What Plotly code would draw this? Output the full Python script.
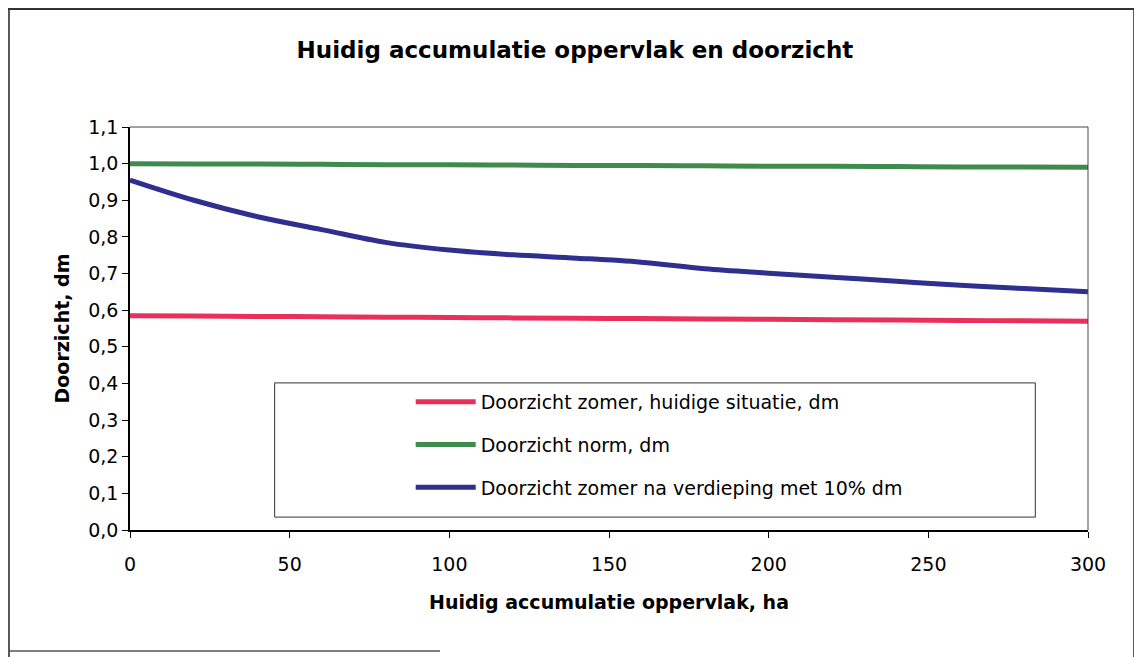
import plotly.graph_objects as go

# oppervlak (ha) en doorzicht (dm)
opp = [0, 20, 40, 60, 80, 100, 120, 140, 160, 180, 200, 220, 240, 260, 280, 300]
zomer_huidig = [0.585, 0.584, 0.583, 0.582, 0.581, 0.580, 0.579, 0.578, 0.577, 0.576, 0.575, 0.574, 0.573, 0.572, 0.571, 0.570]
norm = [1.0, 0.999, 0.999, 0.998, 0.997, 0.997, 0.996, 0.995, 0.995, 0.994, 0.993, 0.993, 0.992, 0.991, 0.991, 0.990]
zomer_verdieping = [0.955, 0.90, 0.855, 0.82, 0.785, 0.764, 0.751, 0.742, 0.731, 0.713, 0.701, 0.69, 0.679, 0.668, 0.659, 0.650]

namen = ['Doorzicht zomer, huidige situatie, dm', 'Doorzicht norm, dm',
         'Doorzicht zomer na verdieping met 10% dm']
kleuren = ['#E8305A', '#3F8B4E', '#2E2F8E']

font = 'DejaVu Sans, Arial, sans-serif'

fig = go.Figure()
for i, (naam, y) in enumerate(zip(namen, [zomer_huidig, norm, zomer_verdieping])):
    fig.add_trace(go.Scatter(x=opp, y=y, mode='lines', name=naam, legendgroup=str(i),
                             line=dict(color=kleuren[i], width=5, shape='spline')))

# de pagina heeft 8px body-marge, daarom de figuur 8px kleiner
fig.update_layout(
    width=1134, height=649,
    margin=dict(l=122, r=54, t=119, b=127),
    paper_bgcolor='white', plot_bgcolor='white',
    separators=',.',
    font=dict(family=font, size=19, color='black'),
    title=dict(text='<b>Huidig accumulatie oppervlak en doorzicht</b>', x=0.5, xanchor='center',
               y=0.935, yanchor='middle', font=dict(size=23)),
    showlegend=True,
    legend=dict(x=0.293, y=0.365, xanchor='left', yanchor='top', bgcolor='rgba(0,0,0,0)',
                borderwidth=0, traceorder='grouped', tracegroupgap=15,
                font=dict(size=19), itemwidth=60),
)
fig.update_xaxes(range=[0, 300], tickvals=[0, 50, 100, 150, 200, 250, 300], showgrid=False, zeroline=False,
                 showline=True, linecolor='black', linewidth=1.5, mirror=False,
                 ticks='outside', ticklen=6, tickcolor='black', ticklabelstandoff=10,
                 title=dict(text='<b>Huidig accumulatie oppervlak, ha</b>', standoff=22, font=dict(size=19)))
fig.update_yaxes(range=[0, 1.1], dtick=0.1, tickformat='.1f', showgrid=False, zeroline=False,
                 showline=True, linecolor='black', linewidth=1.5,
                 ticks='outside', ticklen=6, tickcolor='black',
                 title=dict(text='<b>Doorzicht, dm</b>', standoff=14, font=dict(size=19)))

# rand van het plotvlak (boven en rechts)
fig.add_shape(type='line', xref='paper', yref='paper', x0=0, x1=1, y0=1, y1=1, line=dict(color='#444', width=1))
fig.add_shape(type='line', xref='paper', yref='paper', x0=1, x1=1, y0=0, y1=1, line=dict(color='#444', width=1))

# kader van de legenda
fig.add_shape(type='rect', xref='paper', yref='paper', x0=0.151, x1=0.945, y0=0.032, y1=0.365,
              line=dict(color='#333', width=1))

# buitenkader van de grafiek (schermpixels -> paper)
def px_x(p):
    return (p - 130) / 958

def px_y(p):
    return (530 - p) / 403

for xp in [9, 1134, 1138]:
    fig.add_shape(type='line', xref='paper', yref='paper', x0=px_x(xp), x1=px_x(xp), y0=px_y(8), y1=px_y(660),
                  line=dict(color='#222', width=1.5))
fig.add_shape(type='line', xref='paper', yref='paper', x0=px_x(8), x1=px_x(1142), y0=px_y(9), y1=px_y(9),
              line=dict(color='#333', width=2))
fig.add_shape(type='line', xref='paper', yref='paper', x0=px_x(8), x1=px_x(440), y0=px_y(651), y1=px_y(651),
              line=dict(color='#555', width=1.5))

fig.write_html('out.html')
